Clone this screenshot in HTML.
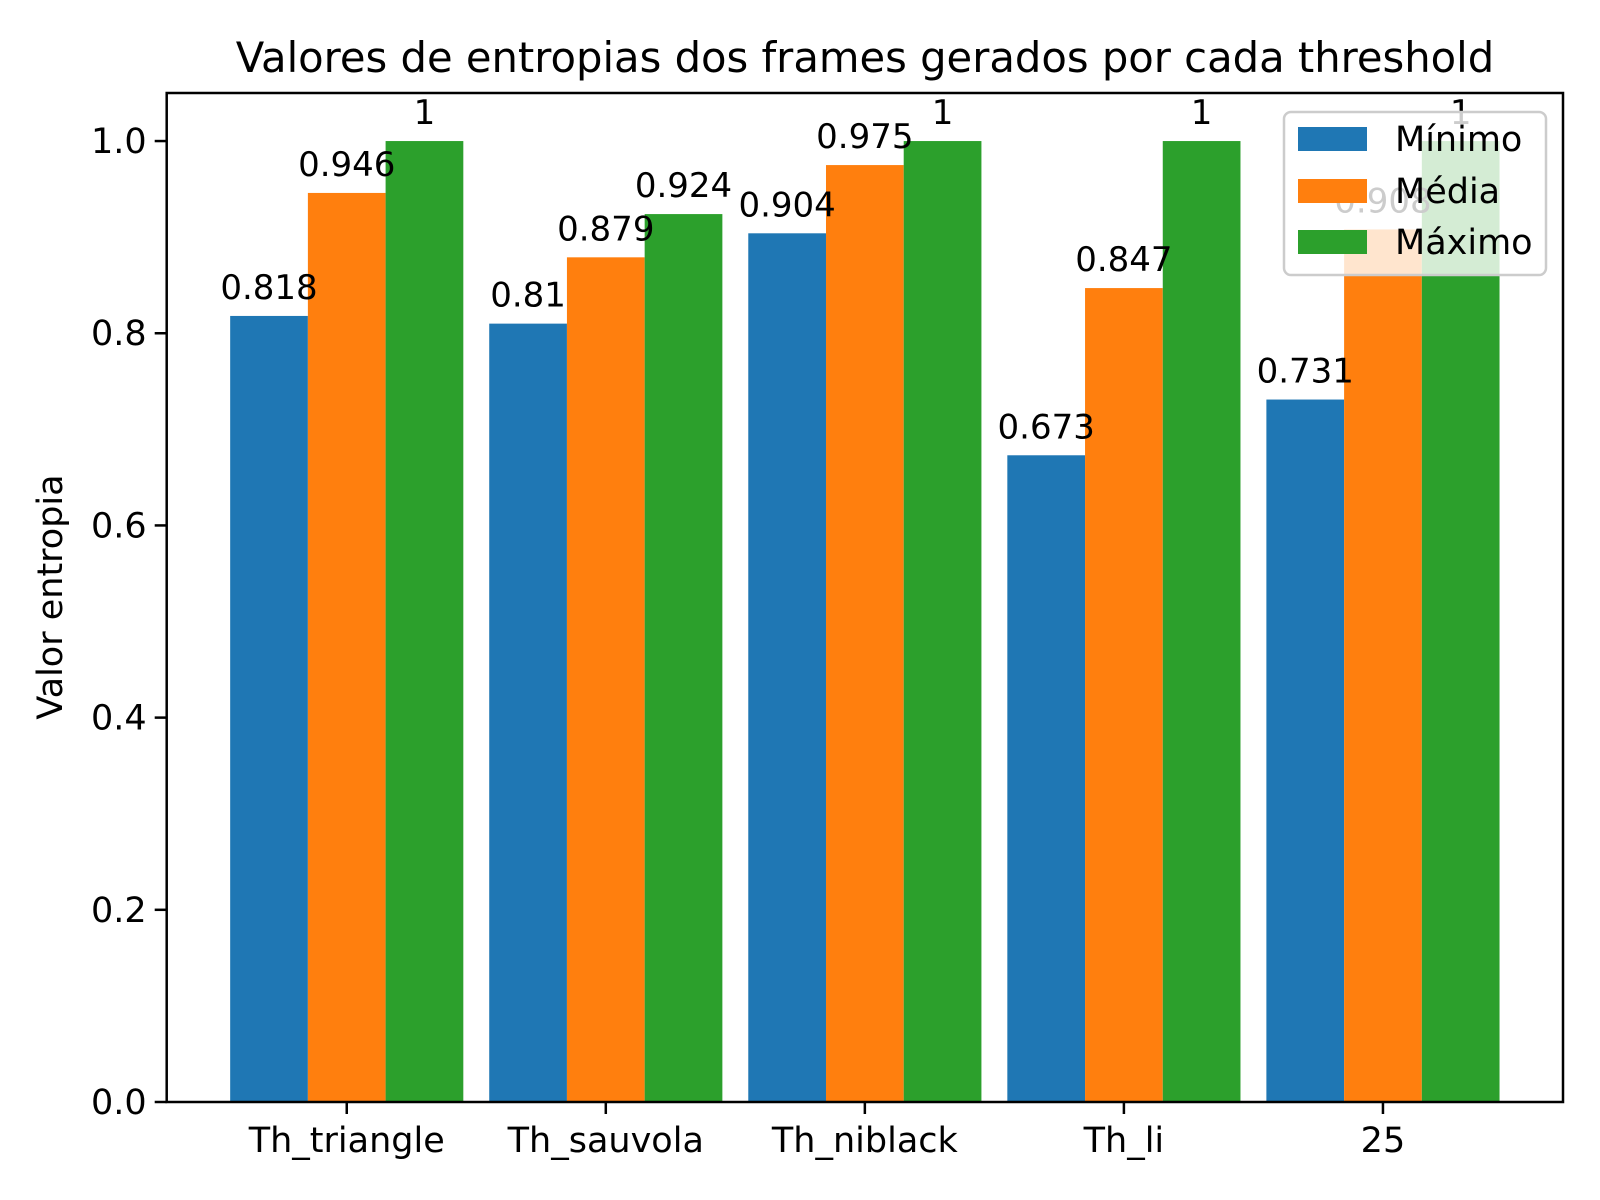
<!DOCTYPE html>
<html><head><meta charset="utf-8"><style>
html,body{margin:0;padding:0;background:#fff}
svg{display:block;font-family:"DejaVu Sans","Liberation Sans",sans-serif}
</style></head><body>
<svg id="chart" width="1600" height="1200" viewBox="0 0 1600 1200" xmlns="http://www.w3.org/2000/svg">
<rect width="1600" height="1200" fill="#fff"/>
<text x="865" y="72" font-size="41.7" text-anchor="middle">Valores de entropias dos frames gerados por cada threshold</text>
<text transform="translate(62,597) rotate(-90)" font-size="35" text-anchor="middle">Valor entropia</text>
<g id="plot"></g>
</svg>
<script>
const categories = ["Th_triangle","Th_sauvola","Th_niblack","Th_li","25"];
const minimo = [0.818,0.81,0.904,0.673,0.731];
const media = [0.946,0.879,0.975,0.847,0.908];
const maximo = [1,0.924,1,1,1];
const seriesNames = ["Mínimo","Média","Máximo"];
const yTicks = [0.0,0.2,0.4,0.6,0.8,1.0];
const yTickLabels = ["0.0","0.2","0.4","0.6","0.8","1.0"];

const NS="http://www.w3.org/2000/svg";
const L=166.7,R=1563,T=93,B=1102;
const xMin=-0.695,xMax=4.695,yMin=0,yMax=1.05;
const xs=v=>L+(v-xMin)/(xMax-xMin)*(R-L);
const ys=v=>B-(v-yMin)/(yMax-yMin)*(B-T);
const colors=["#1f77b4","#ff7f0e","#2ca02c"];
const series=[minimo,media,maximo];
const W=0.3;
const g=document.getElementById('plot');
function mk(tag,attrs,parent){const e=document.createElementNS(NS,tag);for(const k in attrs)e.setAttribute(k,attrs[k]);(parent||g).appendChild(e);return e;}
function fmt(v){return String(+v.toFixed(3));}

series.forEach((vals,s)=>{
  vals.forEach((v,i)=>{
    const c=i+(s-1)*W;
    const r=mk('rect',{x:xs(c-W/2),y:ys(v),width:xs(c+W/2)-xs(c-W/2),height:ys(0)-ys(v),fill:colors[s]});
    
    
  });
});
series.forEach((vals,s)=>{
  vals.forEach((v,i)=>{
    const c=i+(s-1)*W;
    const t=mk('text',{x:xs(c),y:ys(v)-17,'font-size':34,'text-anchor':'middle'});
    t.textContent=fmt(v);
    
    
  });
});
const fr=mk('rect',{x:L,y:T,width:R-L,height:B-T,fill:'none',stroke:'#000','stroke-width':2.5});


yTicks.forEach((v,i)=>{
  mk('line',{x1:L-12,x2:L,y1:ys(v),y2:ys(v),stroke:'#000','stroke-width':2.5});
  const t=mk('text',{x:L-20,y:ys(v)+12,'font-size':35,'text-anchor':'end'});
  t.textContent=yTickLabels[i];
  
  
});
categories.forEach((c,i)=>{
  mk('line',{x1:xs(i),x2:xs(i),y1:B,y2:B+12,stroke:'#000','stroke-width':2.5});
  const t=mk('text',{x:xs(i),y:1152,'font-size':35,'text-anchor':'middle'});
  t.textContent=c;
  
  
});
const lg=mk('g',{});


mk('rect',{x:1284,y:112,width:262,height:163,rx:7,fill:'rgba(255,255,255,0.8)',stroke:'#cccccc','stroke-width':2.5},lg);
const rowsY=[139,191,242];
seriesNames.forEach((n,s)=>{
  mk('rect',{x:1298,y:rowsY[s]-12,width:69,height:24,fill:colors[s]},lg);
  const t=mk('text',{x:1395,y:rowsY[s]+12,'font-size':35},lg);
  t.textContent=n;
  
  
});
</script>
</body></html>
